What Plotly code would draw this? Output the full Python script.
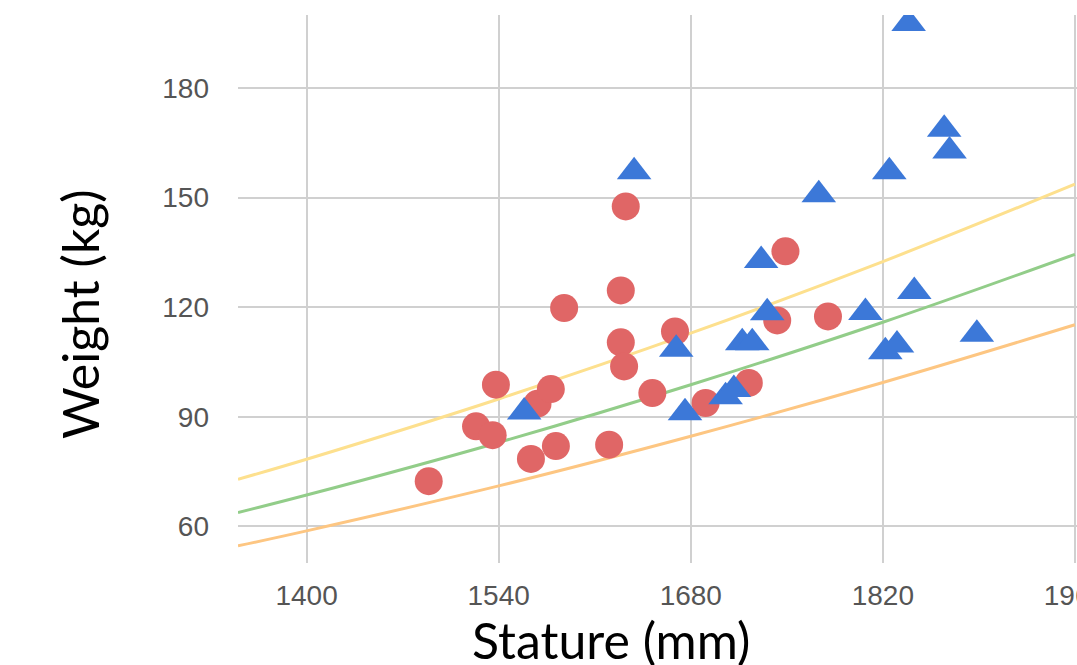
import plotly.graph_objects as go

# ---- data ----
female_stature = [1489, 1523.5, 1535.6, 1538, 1563.5, 1568.3, 1578, 1581.7, 1587.7, 1620.5,
                  1629, 1629, 1631.4, 1632.6, 1652, 1668.5, 1690.8, 1722.3, 1743, 1749, 1780]
female_weight = [72.4, 87.4, 85.0, 98.8, 78.5, 93.6, 97.6, 82.0, 119.8, 82.4,
                 124.6, 110.4, 103.8, 147.6, 96.5, 113.4, 93.8, 99.3, 116.4, 135.3, 117.5]

male_stature = [1638.7, 1558.6, 1773.3, 1824.7, 1838.8, 1864.7, 1868.6, 1731.3, 1842.9, 1735.7,
                1807.3, 1669.4, 1717.5, 1724.8, 1888.5, 1821.8, 1830.3, 1675.8, 1705.4, 1711.4]
male_weight = [157.1, 91.3, 150.8, 157.1, 197.7, 168.7, 162.8, 132.8, 124.3, 118.5,
               118.6, 108.5, 110.3, 110.3, 112.6, 107.8, 109.7, 91.1, 95.5, 97.5]

line_stature = [1350, 1400, 1540, 1680, 1820, 1960]
line_upper = [72.9, 78.4, 94.9, 112.9, 132.5, 153.7]
line_middle = [63.8, 68.6, 83.0, 98.8, 115.9, 134.5]
line_lower = [54.7, 58.8, 71.1, 84.7, 99.4, 115.2]

x_ticks = [1400, 1540, 1680, 1820, 1960]
y_ticks = [60, 90, 120, 150, 180]

fig = go.Figure()
for ys, col in [(line_upper, "#fde08e"), (line_middle, "#92cd89"), (line_lower, "#fdc682")]:
    fig.add_trace(go.Scatter(x=line_stature, y=ys, mode="lines", line=dict(color=col, width=3, shape="spline"),
                             hoverinfo="skip", showlegend=False))

fig.add_trace(go.Scatter(x=female_stature, y=female_weight, mode="markers",
                         marker=dict(symbol="circle", size=28, color="#e06666", line=dict(width=0)),
                         showlegend=False))
fig.add_trace(go.Scatter(x=male_stature, y=male_weight, mode="markers",
                         marker=dict(symbol="triangle-up", size=30, color="#3c78d8", line=dict(width=0)),
                         showlegend=False))

tickfont = dict(family="Liberation Sans, Arial, sans-serif", size=28, color="#555555")
fig.update_xaxes(range=[1350, 1961.5], tickvals=x_ticks, showgrid=True, gridcolor="#d0d0d0", gridwidth=2,
                 zeroline=False, showline=False, ticks="", tickfont=tickfont, ticklabelstandoff=13,
                 ticklabeloverflow="allow", automargin=False)
fig.update_yaxes(range=[50, 200], tickvals=y_ticks, showgrid=True, gridcolor="#d0d0d0", gridwidth=2,
                 zeroline=False, showline=False, ticks="", tickfont=tickfont, ticklabelstandoff=28,
                 automargin=False)

title_font = dict(family="Lato, sans-serif", size=50, color="#000000")
fig.add_annotation(text="Stature (mm)", xref="paper", yref="paper", x=0.4446, y=-0.141,
                   xanchor="center", yanchor="middle", showarrow=False, font=title_font)
fig.add_annotation(text="Weight (kg)", xref="paper", yref="paper", x=-0.1876, y=0.4535,
                   xanchor="center", yanchor="middle", textangle=-90, showarrow=False, font=title_font)

fig.update_layout(width=1077, height=665, margin=dict(l=238, r=0, t=15, b=102),
                  paper_bgcolor="white", plot_bgcolor="white")

fig.write_html("out.html", config={"displayModeBar": False},
               post_script="document.body.style.margin='0';document.body.style.overflow='hidden';")
